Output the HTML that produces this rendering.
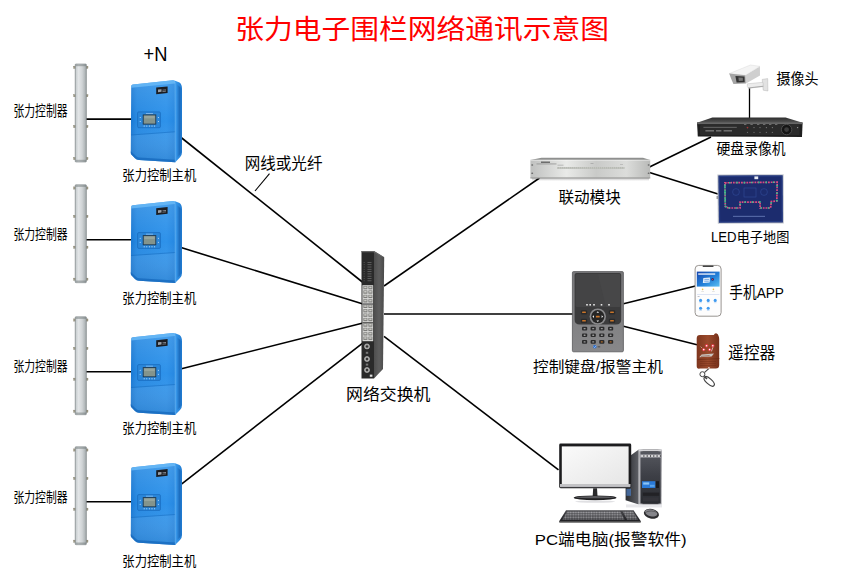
<!DOCTYPE html>
<html lang="zh-CN"><head><meta charset="utf-8"><title>张力电子围栏网络通讯示意图</title>
<style>
html,body{margin:0;padding:0;background:#fff;}
body{width:850px;height:573px;position:relative;overflow:hidden;font-family:"Liberation Sans",sans-serif;}
.t{position:absolute;white-space:nowrap;overflow:hidden;line-height:1;color:transparent;font-family:"Liberation Sans",sans-serif;}
svg text{font-family:"Liberation Sans","Noto Sans CJK SC",sans-serif;}
</style></head><body>
<svg width="850" height="573" viewBox="0 0 850 573" style="position:absolute;left:0;top:0"><defs>
<linearGradient id="poleG" x1="0" x2="1" y1="0" y2="0">
 <stop offset="0" stop-color="#a3abad"/><stop offset=".1" stop-color="#cdd2d4"/><stop offset=".3" stop-color="#e2e5e7"/><stop offset=".62" stop-color="#d0d4d6"/><stop offset=".9" stop-color="#aeb4b6"/><stop offset="1" stop-color="#8c9496"/>
</linearGradient>
<linearGradient id="boxF" x1="0" x2="1" y1="0" y2="0">
 <stop offset="0" stop-color="#1a78d2"/><stop offset=".14" stop-color="#2689e2"/><stop offset=".8" stop-color="#2e92ea"/><stop offset="1" stop-color="#2687e0"/>
</linearGradient>
<linearGradient id="boxS" x1="0" x2="1" y1="0" y2="0">
 <stop offset="0" stop-color="#3f9ff0"/><stop offset="1" stop-color="#1f7bd2"/>
</linearGradient>
<linearGradient id="boxShade" x1="0" x2="0" y1="0" y2="1">
 <stop offset="0" stop-color="#fff" stop-opacity=".12"/><stop offset=".5" stop-color="#fff" stop-opacity="0"/><stop offset="1" stop-color="#003a80" stop-opacity=".18"/>
</linearGradient>
<linearGradient id="modG" x1="0" x2="1" y1="0" y2="0">
 <stop offset="0" stop-color="#bfc0bf"/><stop offset=".3" stop-color="#e9eae8"/><stop offset=".55" stop-color="#c9cac8"/><stop offset=".8" stop-color="#dcdddb"/><stop offset="1" stop-color="#b9bab8"/>
</linearGradient>
<linearGradient id="swS" x1="0" x2="1" y1="0" y2="0">
 <stop offset="0" stop-color="#4e4e4e"/><stop offset=".5" stop-color="#5e5e5e"/><stop offset="1" stop-color="#4a4a4a"/>
</linearGradient>
<linearGradient id="phoneB" x1="0" x2="1" y1="0" y2="1">
 <stop offset="0" stop-color="#1646ae"/><stop offset=".55" stop-color="#2380d8"/><stop offset="1" stop-color="#5cc0f2"/>
</linearGradient>
<linearGradient id="remG" x1="0" x2="1" y1="0" y2="0">
 <stop offset="0" stop-color="#7e361e"/><stop offset=".5" stop-color="#9a4a2c"/><stop offset="1" stop-color="#76301a"/>
</linearGradient>
<linearGradient id="scrG" x1="0" x2="1" y1="0" y2="1">
 <stop offset="0" stop-color="#fafafa"/><stop offset="1" stop-color="#e6e6e6"/>
</linearGradient>
<linearGradient id="twG" x1="0" x2="1" y1="0" y2="0">
 <stop offset="0" stop-color="#c8c8cc"/><stop offset=".1" stop-color="#8a8a90"/><stop offset=".2" stop-color="#44444a"/><stop offset=".8" stop-color="#3a3a40"/><stop offset=".92" stop-color="#8a8a90"/><stop offset="1" stop-color="#b0b0b4"/>
</linearGradient>
<linearGradient id="twPanel" x1="0" x2="0" y1="0" y2="1"><stop offset="0" stop-color="#56585f"/><stop offset=".45" stop-color="#3e4047"/><stop offset="1" stop-color="#2a2c31"/></linearGradient>
<linearGradient id="twSide" x1="0" x2="1" y1="0" y2="0">
 <stop offset="0" stop-color="#2a2c30"/><stop offset="1" stop-color="#5e6066"/>
</linearGradient>
<linearGradient id="kbG" x1="0" x2="0" y1="0" y2="1">
 <stop offset="0" stop-color="#4a4a4e"/><stop offset="1" stop-color="#1e1e22"/>
</linearGradient>
<linearGradient id="dvrTop" x1="0" x2="0" y1="0" y2="1">
 <stop offset="0" stop-color="#2e2e2e"/><stop offset="1" stop-color="#565656"/>
</linearGradient>
<linearGradient id="keyG" x1="0" x2="0" y1="0" y2="1">
 <stop offset="0" stop-color="#777779"/><stop offset="1" stop-color="#88888a"/>
</linearGradient>
<linearGradient id="shad" x1="0" x2="0" y1="0" y2="1"><stop offset="0" stop-color="#000" stop-opacity=".22"/><stop offset="1" stop-color="#000" stop-opacity="0"/></linearGradient>
<pattern id="ridge" width="1.2" height="4" patternUnits="userSpaceOnUse"><rect width=".55" height="4" fill="#0b4f9e" opacity=".5"/></pattern>
<pattern id="kbKeys" width="2.6" height="2.4" patternUnits="userSpaceOnUse"><rect x=".3" y=".3" width="2" height="1.7" rx=".3" fill="#a2a2a6"/></pattern>
<g id="pole">
<g fill="#a39d86" stroke="#6f6a58" stroke-width=".3">
<rect x="-1.6" y="2.2" width="2.4" height="2.2"/><rect x="10.4" y="2.2" width="2.4" height="2.2"/>
<rect x="-1.6" y="30.6" width="2.4" height="2.2"/><rect x="10.4" y="30.6" width="2.4" height="2.2"/>
<rect x="-1.6" y="61.4" width="2.4" height="2.2"/><rect x="10.4" y="61.4" width="2.4" height="2.2"/>
<rect x="-1.6" y="93.4" width="2.4" height="2.2"/><rect x="10.4" y="93.4" width="2.4" height="2.2"/>
</g>
<rect x="0" y="0" width="11.2" height="98" rx=".8" fill="url(#poleG)" stroke="#7d8586" stroke-width=".6"/>
<rect x="0.4" y="0.4" width="10.4" height="1.8" fill="#6f7778" opacity=".5"/>
<rect x="0.4" y="95.8" width="10.4" height="1.8" fill="#6f7778" opacity=".5"/>
</g><g id="bbox">
<path d="M44.5 1.2 L49.5 3.2 Q52 5 52 9.5 L52 73 Q52 76 50 78 L45 83.2 Z" fill="url(#boxS)"/>
<path d="M45.6 4 L51.6 9 L51.6 73.5 L45.6 80 Z" fill="url(#ridge)"/>
<path d="M1.2 7.2 Q1.2 5.6 3 5.4 L43 1.1 Q45 1 45 3 L45.2 83 L9 80.8 Q6.5 80.6 5 79 L1.6 75.6 Q0.8 74.8 0.8 73.5 Z" fill="url(#boxF)"/>
<path d="M1.2 7.2 Q1.2 5.6 3 5.4 L43 1.1 Q45 1 45 3 L45.2 83 L9 80.8 Q6.5 80.6 5 79 L1.6 75.6 Q0.8 74.8 0.8 73.5 Z" fill="url(#boxShade)"/>
<path d="M3 5.4 L43 1.1 Q45 1 45 3 L45 4.2 L1.2 8.6 L1.2 7.2 Q1.2 5.6 3 5.4Z" fill="#6cbcf8" opacity=".8"/>
<path d="M1 55.2 L45.1 52 L45.1 53 L1 56.2 Z" fill="#1566b8" opacity=".45"/>
<path d="M1 56.2 L45.1 53 L45.2 83 L9 80.8 Q6.5 80.6 5 79 L1.6 75.6 Q0.8 74.8 0.8 73.5 Z" fill="#fff" opacity=".06"/>
<path d="M1.6 75.6 L5 79 Q6.5 80.6 9 80.8 L45.2 83 L45.2 80.6 L9.6 78.4 Q7.5 78.2 6.2 77 L0.8 72 L0.8 73.5 Q0.8 74.8 1.6 75.6Z" fill="#1668bc" opacity=".75"/>
<rect x="7.6" y="32.7" width="22.8" height="15.8" rx="1.2" fill="#2a86da" stroke="#1768bb" stroke-width=".7"/>
<rect x="13.2" y="35.7" width="12.6" height="9.2" fill="#84948c" stroke="#1d3850" stroke-width=".9"/>
<rect x="14.2" y="36.7" width="10.6" height="2.5" fill="#a3b1a8" opacity=".6"/>
<g fill="#d8ecff"><circle cx="14.2" cy="46.8" r=".55"/><circle cx="16.8" cy="46.8" r=".55"/><circle cx="19.4" cy="46.8" r=".55"/><circle cx="22" cy="46.8" r=".55"/><circle cx="24.6" cy="46.8" r=".55"/>
<circle cx="10.2" cy="38.3" r=".5"/><circle cx="10.2" cy="42.3" r=".5"/><circle cx="28.4" cy="38.3" r=".5"/><circle cx="28.4" cy="42.3" r=".5"/></g>
<rect x="16" y="33.9" width="7" height=".6" fill="#cfe6ff" opacity=".8"/>
<path d="M45.1 2.6 L45.3 82.6" stroke="#7cc4fa" stroke-width=".7" opacity=".7"/>
<path d="M26.2 8.4 L37.6 7.2 L37.6 13.8 L26.2 15 Z" fill="#1b1d22"/>
<path d="M28 10.4 L31.5 10 L31.5 12.6 L28 13 Z" fill="#9aa0a8"/><path d="M32.4 10.6 L36 10.2 L36 11 L32.4 11.4Z M32.4 12 L36 11.6 L36 12.3 L32.4 12.7Z" fill="#8a9098"/>
</g></defs>
<rect width="850" height="573" fill="#fff"/>
<g stroke="#000" stroke-linecap="butt"><line x1="86" y1="119.1" x2="131" y2="119.1" stroke-width="1.6"/><line x1="86" y1="239.79999999999998" x2="131" y2="239.79999999999998" stroke-width="1.6"/><line x1="86" y1="371.8" x2="131" y2="371.8" stroke-width="1.6"/><line x1="86" y1="501.8" x2="131" y2="501.8" stroke-width="1.6"/><line x1="180.5" y1="137" x2="363" y2="282.5" stroke-width="1.6"/><line x1="181" y1="247.5" x2="363" y2="304" stroke-width="1.6"/><line x1="180.5" y1="369" x2="363" y2="323" stroke-width="1.6"/><line x1="180.5" y1="484.8" x2="363" y2="342.8" stroke-width="1.6"/><line x1="384" y1="286" x2="539.5" y2="178" stroke-width="1.6"/><line x1="384" y1="314" x2="573" y2="314" stroke-width="1.6"/><line x1="384" y1="336.4" x2="558.5" y2="469.8" stroke-width="1.6"/><line x1="649.5" y1="167" x2="711" y2="137" stroke-width="1.6"/><line x1="649.5" y1="172.5" x2="718" y2="194" stroke-width="1.6"/><line x1="623.5" y1="303.75" x2="695.5" y2="286" stroke-width="1.6"/><line x1="623.5" y1="326.25" x2="697" y2="344.7" stroke-width="1.6"/><line x1="749.5" y1="87" x2="749.5" y2="118.5" stroke-width="1.3"/><line x1="269.5" y1="173.7" x2="255" y2="191" stroke-width="1.1"/></g>
<use href="#pole" x="75.2" y="64.0"/>
<use href="#bbox" x="130" y="79.2"/>
<use href="#pole" x="75.2" y="184.7"/>
<use href="#bbox" x="130" y="199.9"/>
<use href="#pole" x="75.2" y="316.7"/>
<use href="#bbox" x="130" y="331.9"/>
<use href="#pole" x="75.2" y="446.7"/>
<use href="#bbox" x="130" y="461.9"/>
<g id="switch"><path d="M374 251 L384.2 257.2 L383 369 L374 378.4 Z" fill="url(#swS)"/><path d="M361.5 251 L374 251 L374 378.4 L361.5 378.4 Z" fill="#2a2a2a"/><path d="M361.5 251 L374 251 L384.2 257.2 L382.6 257 L373.6 252.2 L361.5 252.2Z" fill="#666"/><rect x="367.5" y="262.0" width="4" height=".8" fill="#6a6a6a"/><rect x="363.6" y="262.0" width="1.2" height=".8" fill="#555"/><rect x="367.5" y="264.3" width="4" height=".8" fill="#6a6a6a"/><rect x="363.6" y="264.3" width="1.2" height=".8" fill="#555"/><rect x="367.5" y="266.6" width="4" height=".8" fill="#6a6a6a"/><rect x="363.6" y="266.6" width="1.2" height=".8" fill="#555"/><rect x="367.5" y="268.9" width="4" height=".8" fill="#6a6a6a"/><rect x="363.6" y="268.9" width="1.2" height=".8" fill="#555"/><rect x="367.5" y="271.2" width="4" height=".8" fill="#6a6a6a"/><rect x="363.6" y="271.2" width="1.2" height=".8" fill="#555"/><rect x="367.5" y="273.5" width="4" height=".8" fill="#6a6a6a"/><rect x="363.6" y="273.5" width="1.2" height=".8" fill="#555"/><rect x="367.5" y="275.8" width="4" height=".8" fill="#6a6a6a"/><rect x="363.6" y="275.8" width="1.2" height=".8" fill="#555"/><rect x="367.5" y="278.1" width="4" height=".8" fill="#6a6a6a"/><rect x="363.6" y="278.1" width="1.2" height=".8" fill="#555"/><rect x="367.5" y="280.4" width="4" height=".8" fill="#6a6a6a"/><rect x="363.6" y="280.4" width="1.2" height=".8" fill="#555"/><rect x="362.4" y="285.2" width="10.8" height="56" fill="#dadad8"/><rect x="363.4" y="286.00" width="4" height="3.3" fill="#7c7c7a"/><rect x="368.4" y="286.00" width="4" height="3.3" fill="#7c7c7a"/><rect x="364.2" y="286.60" width="2.4" height="1.6" fill="#c9c9c4"/><rect x="369.2" y="286.60" width="2.4" height="1.6" fill="#c9c9c4"/><rect x="363.4" y="290.40" width="4" height="3.3" fill="#7c7c7a"/><rect x="368.4" y="290.40" width="4" height="3.3" fill="#7c7c7a"/><rect x="364.2" y="291.00" width="2.4" height="1.6" fill="#c9c9c4"/><rect x="369.2" y="291.00" width="2.4" height="1.6" fill="#c9c9c4"/><rect x="363.4" y="294.80" width="4" height="3.3" fill="#7c7c7a"/><rect x="368.4" y="294.80" width="4" height="3.3" fill="#7c7c7a"/><rect x="364.2" y="295.40" width="2.4" height="1.6" fill="#c9c9c4"/><rect x="369.2" y="295.40" width="2.4" height="1.6" fill="#c9c9c4"/><rect x="363.4" y="299.20" width="4" height="3.3" fill="#7c7c7a"/><rect x="368.4" y="299.20" width="4" height="3.3" fill="#7c7c7a"/><rect x="364.2" y="299.80" width="2.4" height="1.6" fill="#c9c9c4"/><rect x="369.2" y="299.80" width="2.4" height="1.6" fill="#c9c9c4"/><rect x="362.4" y="303.40" width="10.8" height="1.3" fill="#555"/><rect x="363.4" y="304.70" width="4" height="3.3" fill="#7c7c7a"/><rect x="368.4" y="304.70" width="4" height="3.3" fill="#7c7c7a"/><rect x="364.2" y="305.30" width="2.4" height="1.6" fill="#c9c9c4"/><rect x="369.2" y="305.30" width="2.4" height="1.6" fill="#c9c9c4"/><rect x="363.4" y="309.10" width="4" height="3.3" fill="#7c7c7a"/><rect x="368.4" y="309.10" width="4" height="3.3" fill="#7c7c7a"/><rect x="364.2" y="309.70" width="2.4" height="1.6" fill="#c9c9c4"/><rect x="369.2" y="309.70" width="2.4" height="1.6" fill="#c9c9c4"/><rect x="363.4" y="313.50" width="4" height="3.3" fill="#7c7c7a"/><rect x="368.4" y="313.50" width="4" height="3.3" fill="#7c7c7a"/><rect x="364.2" y="314.10" width="2.4" height="1.6" fill="#c9c9c4"/><rect x="369.2" y="314.10" width="2.4" height="1.6" fill="#c9c9c4"/><rect x="363.4" y="317.90" width="4" height="3.3" fill="#7c7c7a"/><rect x="368.4" y="317.90" width="4" height="3.3" fill="#7c7c7a"/><rect x="364.2" y="318.50" width="2.4" height="1.6" fill="#c9c9c4"/><rect x="369.2" y="318.50" width="2.4" height="1.6" fill="#c9c9c4"/><rect x="362.4" y="322.10" width="10.8" height="1.3" fill="#555"/><rect x="363.4" y="323.40" width="4" height="3.3" fill="#7c7c7a"/><rect x="368.4" y="323.40" width="4" height="3.3" fill="#7c7c7a"/><rect x="364.2" y="324.00" width="2.4" height="1.6" fill="#c9c9c4"/><rect x="369.2" y="324.00" width="2.4" height="1.6" fill="#c9c9c4"/><rect x="363.4" y="327.80" width="4" height="3.3" fill="#7c7c7a"/><rect x="368.4" y="327.80" width="4" height="3.3" fill="#7c7c7a"/><rect x="364.2" y="328.40" width="2.4" height="1.6" fill="#c9c9c4"/><rect x="369.2" y="328.40" width="2.4" height="1.6" fill="#c9c9c4"/><rect x="363.4" y="332.20" width="4" height="3.3" fill="#7c7c7a"/><rect x="368.4" y="332.20" width="4" height="3.3" fill="#7c7c7a"/><rect x="364.2" y="332.80" width="2.4" height="1.6" fill="#c9c9c4"/><rect x="369.2" y="332.80" width="2.4" height="1.6" fill="#c9c9c4"/><rect x="363.4" y="336.60" width="4" height="3.3" fill="#7c7c7a"/><rect x="368.4" y="336.60" width="4" height="3.3" fill="#7c7c7a"/><rect x="364.2" y="337.20" width="2.4" height="1.6" fill="#c9c9c4"/><rect x="369.2" y="337.20" width="2.4" height="1.6" fill="#c9c9c4"/><circle cx="367" cy="346.4" r="2.5" fill="#9a9a98" stroke="#cfcfcf" stroke-width=".6"/><circle cx="367" cy="346.4" r="1.2" fill="#333"/><circle cx="367" cy="359" r="2.5" fill="#9a9a98" stroke="#cfcfcf" stroke-width=".6"/><circle cx="367" cy="359" r="1.2" fill="#333"/><circle cx="367" cy="370" r="2.5" fill="#9a9a98" stroke="#cfcfcf" stroke-width=".6"/><circle cx="367" cy="370" r="1.2" fill="#333"/><rect x="365.8" y="351.8" width="2.4" height="2" fill="#777"/><rect x="365.8" y="363.6" width="2.4" height="2" fill="#777"/><rect x="369.8" y="374.6" width="2.6" height="2.2" fill="#ddd"/></g>
<g id="module"><path d="M530.4 160 L541.5 157.8 L643 157.8 L650.2 160 Z" fill="#8f908f"/><rect x="530.4" y="159.8" width="119.8" height="18.6" fill="url(#modG)"/><rect x="530.4" y="159.8" width="119.8" height=".8" fill="#fff" opacity=".6"/><rect x="530.4" y="177.4" width="119.8" height="1" fill="#9a9a98"/><rect x="557" y="167" width="67.5" height="1.8" fill="#a9aba6"/><rect x="557.3" y="167.2" width="1.1" height="1.4" fill="#d9dbd4"/><rect x="559.3" y="167.2" width="1.1" height="1.4" fill="#d9dbd4"/><rect x="561.3" y="167.2" width="1.1" height="1.4" fill="#d9dbd4"/><rect x="563.3" y="167.2" width="1.1" height="1.4" fill="#d9dbd4"/><rect x="565.3" y="167.2" width="1.1" height="1.4" fill="#d9dbd4"/><rect x="567.3" y="167.2" width="1.1" height="1.4" fill="#d9dbd4"/><rect x="569.3" y="167.2" width="1.1" height="1.4" fill="#d9dbd4"/><rect x="571.3" y="167.2" width="1.1" height="1.4" fill="#d9dbd4"/><rect x="573.3" y="167.2" width="1.1" height="1.4" fill="#d9dbd4"/><rect x="575.3" y="167.2" width="1.1" height="1.4" fill="#d9dbd4"/><rect x="577.3" y="167.2" width="1.1" height="1.4" fill="#d9dbd4"/><rect x="579.3" y="167.2" width="1.1" height="1.4" fill="#d9dbd4"/><rect x="581.3" y="167.2" width="1.1" height="1.4" fill="#d9dbd4"/><rect x="583.3" y="167.2" width="1.1" height="1.4" fill="#d9dbd4"/><rect x="585.3" y="167.2" width="1.1" height="1.4" fill="#d9dbd4"/><rect x="587.3" y="167.2" width="1.1" height="1.4" fill="#d9dbd4"/><rect x="589.3" y="167.2" width="1.1" height="1.4" fill="#d9dbd4"/><rect x="591.3" y="167.2" width="1.1" height="1.4" fill="#d9dbd4"/><rect x="593.3" y="167.2" width="1.1" height="1.4" fill="#d9dbd4"/><rect x="595.3" y="167.2" width="1.1" height="1.4" fill="#d9dbd4"/><rect x="597.3" y="167.2" width="1.1" height="1.4" fill="#d9dbd4"/><rect x="599.3" y="167.2" width="1.1" height="1.4" fill="#d9dbd4"/><rect x="601.3" y="167.2" width="1.1" height="1.4" fill="#d9dbd4"/><rect x="603.3" y="167.2" width="1.1" height="1.4" fill="#d9dbd4"/><rect x="605.3" y="167.2" width="1.1" height="1.4" fill="#d9dbd4"/><rect x="607.3" y="167.2" width="1.1" height="1.4" fill="#d9dbd4"/><rect x="609.3" y="167.2" width="1.1" height="1.4" fill="#d9dbd4"/><rect x="611.3" y="167.2" width="1.1" height="1.4" fill="#d9dbd4"/><rect x="613.3" y="167.2" width="1.1" height="1.4" fill="#d9dbd4"/><rect x="615.3" y="167.2" width="1.1" height="1.4" fill="#d9dbd4"/><rect x="617.3" y="167.2" width="1.1" height="1.4" fill="#d9dbd4"/><rect x="619.3" y="167.2" width="1.1" height="1.4" fill="#d9dbd4"/><rect x="621.3" y="167.2" width="1.1" height="1.4" fill="#d9dbd4"/><rect x="623.3" y="167.2" width="1.1" height="1.4" fill="#d9dbd4"/><rect x="541" y="161.6" width="9" height="1.2" fill="#555"/><rect x="536.5" y="163.6" width="20" height=".7" fill="#888"/><rect x="557.5" y="164.8" width="6" height=".6" fill="#999"/><rect x="590.5" y="163.2" width="3" height=".6" fill="#999"/><rect x="620" y="164" width="3" height=".6" fill="#aaa"/><ellipse cx="532.2" cy="165" rx="1" ry=".7" fill="#666"/><ellipse cx="532.2" cy="173.2" rx="1" ry=".7" fill="#666"/><ellipse cx="648.6" cy="165" rx="1" ry=".7" fill="#666"/><ellipse cx="648.6" cy="173.2" rx="1" ry=".7" fill="#666"/><rect x="532" y="178.4" width="117" height="2.6" fill="url(#shad)"/></g>
<g id="camera"><path d="M762.2 79.4 L767.7 78.6 L767.9 91 L763.2 90.2 Z" fill="#e2e2e2" stroke="#aaa" stroke-width=".4"/><path d="M747.4 83.8 L763 82.3 L763.2 86.6 L748.6 88.2 Q746.6 87 747.4 83.8Z" fill="#ececec" stroke="#b5b5b5" stroke-width=".4"/><path d="M748 87.4 L763.2 85.8 L763.2 86.8 L748.6 88.4Z" fill="#aaa"/><path d="M745.3 75.2 L759.9 66.4 L760 75.6 L746 83.6 Z" fill="#cfcfcf"/><path d="M729.2 73.6 L750.4 65 L760 66.3 L745.4 75.3 Z" fill="#f4f4f4" stroke="#c8c8c8" stroke-width=".3"/><path d="M729.2 73.6 L745.4 75.3 L746 83.6 L733.4 84 Q731.5 80 729.2 73.6Z" fill="#a4a4a4"/><path d="M735.4 75.9 L744.5 76.6 L744.7 82.3 L736.6 82.6 Z" fill="#333"/><path d="M738.4 77.4 L742.8 77.7 L742.9 80.8 L738.8 80.9Z" fill="#777"/></g>
<g id="dvr"><path d="M697 122.8 L712.4 117.6 L785.6 117.6 L802.6 122.8 Z" fill="url(#dvrTop)"/><path d="M697 122.6 L802.6 122.6 L802 137 L697.8 136.6 Z" fill="#1f1f1f"/><rect x="697.2" y="122.4" width="105.2" height="1.8" fill="#666"/><rect x="700" y="125" width="99.6" height="10" rx="1" fill="#2b2b2b"/><rect x="703.4" y="126.9" width="33.4" height=".6" fill="#8c8c8c"/><rect x="705.4" y="130.3" width="8.6" height="1.1" fill="#8a8a8a"/><rect x="716" y="130.3" width="5.4" height="1.1" fill="#8a8a8a"/><rect x="723.6" y="130.3" width="8.4" height="1.1" fill="#8a8a8a"/><circle cx="747.5" cy="127.6" r=".7" fill="#777"/><circle cx="747.5" cy="132.4" r=".7" fill="#666"/><circle cx="754" cy="127.6" r=".7" fill="#777"/><circle cx="754" cy="132.4" r=".7" fill="#666"/><circle cx="760" cy="127.6" r=".7" fill="#777"/><circle cx="760" cy="132.4" r=".7" fill="#666"/><circle cx="766.4" cy="127.6" r=".7" fill="#777"/><circle cx="766.4" cy="132.4" r=".7" fill="#666"/><circle cx="772.4" cy="127.6" r=".7" fill="#777"/><circle cx="772.4" cy="132.4" r=".7" fill="#666"/><circle cx="747.5" cy="127.6" r=".8" fill="#a33"/><rect x="744" y="124.3" width="2.4" height=".7" fill="#888"/><rect x="750.4" y="124.3" width="2.4" height=".7" fill="#888"/><rect x="757" y="124.3" width="2.4" height=".7" fill="#888"/><rect x="763" y="124.3" width="2.4" height=".7" fill="#888"/><rect x="769" y="124.3" width="2.4" height=".7" fill="#888"/><rect x="775" y="124.3" width="2.4" height=".7" fill="#888"/><circle cx="786.6" cy="129.6" r="5.2" fill="#151515" stroke="#505050" stroke-width=".9"/><circle cx="786.6" cy="129.6" r="2.4" fill="#3c3c3c"/><circle cx="797.6" cy="127.6" r=".7" fill="#999"/></g>
<g id="ledmap"><path d="M717.3 174.6 L783.7 174.2 L783.9 223.4 L717.8 223.8 Z" fill="#c4c8d0"/><path d="M718.4 175.6 L782.7 175.2 L782.9 222.4 L718.9 222.8 Z" fill="#1c2c6e"/><path d="M719.2 176.4 L782 176 L782.2 221.6 L719.7 222 Z" fill="none" stroke="#34509e" stroke-width=".5"/><path d="M728.4 208 L725.3 206.4 L724.9 182.8 L777.2 182.2 L776.8 200.9 L771.3 201.6 L770.6 208 L760.1 208 L760.1 202.1 L740.1 202.1 L740.1 208 Z" fill="none" stroke="#dd4a80" stroke-width="1.7" stroke-dasharray="1.8 .9"/><path d="M728.4 208 L725.3 206.4 L724.9 182.8 L777.2 182.2 L776.8 200.9 L771.3 201.6 L770.6 208 L760.1 208 L760.1 202.1 L740.1 202.1 L740.1 208 Z" fill="none" stroke="#38c48c" stroke-width="1.7" stroke-dasharray="1.5 5.8" stroke-dashoffset="-2"/><path d="M724.9 186 L725.2 205" fill="none" stroke="#2fb888" stroke-width="1.5" stroke-dasharray="2.4 1.2"/><rect x="754.4" y="176.4" width="3.8" height="2.8" fill="#e8ecf4"/><rect x="733" y="215.8" width="32" height="1.2" fill="#7f95d0" opacity=".55"/><circle cx="736" cy="192" r="3.4" fill="none" stroke="#3450a0" stroke-width=".5"/><circle cx="764" cy="192" r="3.4" fill="none" stroke="#3450a0" stroke-width=".5"/><rect x="744" y="188" width="12" height="9" fill="none" stroke="#3450a0" stroke-width=".5"/><rect x="716.6" y="196" width="1.2" height="3" fill="#888"/></g>
<g id="keypad"><rect x="572.4" y="271.6" width="51" height="80.2" rx="1.2" fill="url(#keyG)" stroke="#58585a" stroke-width=".8"/><path d="M576.6 273 L619.4 273 Q621.2 273 621.2 275 L621.2 319.5 Q621.2 324.6 616 324.6 L579.8 324.6 Q574.6 324.6 574.6 319.5 L574.6 275 Q574.6 273 576.6 273Z" fill="#3b3b3c"/><rect x="575.6" y="274" width="44.6" height="33" rx="1.5" fill="#444445"/><path d="M598 274 L620.2 274 L620.2 307 L606 307Z" fill="#4a4a4b" opacity=".6"/><rect x="586.2" y="304" width="1.6" height="1.6" fill="#e8e8e8"/><rect x="589.4000000000001" y="304" width="1.6" height="1.6" fill="#e8e8e8"/><rect x="593.2" y="304" width="1.6" height="1.6" fill="#e8e8e8"/><rect x="600.7" y="304" width="1.6" height="1.6" fill="#e8e8e8"/><rect x="608.2" y="304" width="1.6" height="1.6" fill="#e8e8e8"/><rect x="580.8" y="310.2" width="6.4" height="4.2" rx="1.2" fill="#2a2a2a"/><rect x="582.1" y="311.5" width="3.8" height="1.6" rx=".5" fill="#c8742a"/><rect x="580.8" y="318.7" width="6.4" height="4.2" rx="1.2" fill="#2a2a2a"/><rect x="582.1" y="320.0" width="3.8" height="1.6" rx=".5" fill="#c8742a"/><rect x="608.8" y="310.2" width="6.4" height="4.2" rx="1.2" fill="#2a2a2a"/><rect x="610.1" y="311.5" width="3.8" height="1.6" rx=".5" fill="#c8742a"/><rect x="608.8" y="318.7" width="6.4" height="4.2" rx="1.2" fill="#2a2a2a"/><rect x="610.1" y="320.0" width="3.8" height="1.6" rx=".5" fill="#c8742a"/><circle cx="597.8" cy="316.6" r="8.2" fill="#8a8a8c"/><circle cx="597.8" cy="316.6" r="6.6" fill="#262626"/><rect x="595.9" y="315.8" width="3.8" height="1.7" rx=".5" fill="#c8742a"/><path d="M597.8 311.2 l1.3 1.6 h-2.6z M597.8 322 l1.3 -1.6 h-2.6z M592.4 316.6 l1.6 -1.3 v2.6z M603.2 316.6 l-1.6 -1.3 v2.6z" fill="#eee"/><rect x="582.0" y="326.8" width="5.2" height="3.6" rx="1" fill="#2b2b2c"/><rect x="583.6" y="327.90000000000003" width="2" height="1.4" rx=".4" fill="#9a9a9a"/><rect x="590.6" y="326.8" width="5.2" height="3.6" rx="1" fill="#2b2b2c"/><rect x="592.2" y="327.90000000000003" width="2" height="1.4" rx=".4" fill="#9a9a9a"/><rect x="599.1999999999999" y="326.8" width="5.2" height="3.6" rx="1" fill="#2b2b2c"/><rect x="600.8" y="327.90000000000003" width="2" height="1.4" rx=".4" fill="#9a9a9a"/><rect x="608.0" y="326.8" width="5.2" height="3.6" rx="1" fill="#2b2b2c"/><rect x="609.6" y="327.90000000000003" width="2" height="1.4" rx=".4" fill="#9a9a9a"/><rect x="582.0" y="333.4" width="5.2" height="3.6" rx="1" fill="#2b2b2c"/><rect x="583.6" y="334.5" width="2" height="1.4" rx=".4" fill="#9a9a9a"/><rect x="590.6" y="333.4" width="5.2" height="3.6" rx="1" fill="#2b2b2c"/><rect x="592.2" y="334.5" width="2" height="1.4" rx=".4" fill="#9a9a9a"/><rect x="599.1999999999999" y="333.4" width="5.2" height="3.6" rx="1" fill="#2b2b2c"/><rect x="600.8" y="334.5" width="2" height="1.4" rx=".4" fill="#9a9a9a"/><rect x="608.0" y="333.4" width="5.2" height="3.6" rx="1" fill="#2b2b2c"/><rect x="609.6" y="334.5" width="2" height="1.4" rx=".4" fill="#9a9a9a"/><rect x="582.0" y="340.09999999999997" width="5.2" height="3.6" rx="1" fill="#2b2b2c"/><rect x="583.6" y="341.2" width="2" height="1.4" rx=".4" fill="#9a9a9a"/><rect x="590.6" y="340.09999999999997" width="5.2" height="3.6" rx="1" fill="#2b2b2c"/><rect x="592.2" y="341.2" width="2" height="1.4" rx=".4" fill="#9a9a9a"/><rect x="599.1999999999999" y="340.09999999999997" width="5.2" height="3.6" rx="1" fill="#2b2b2c"/><rect x="600.8" y="341.2" width="2" height="1.4" rx=".4" fill="#b06a28"/><rect x="608.0" y="340.09999999999997" width="5.2" height="3.6" rx="1" fill="#2b2b2c"/><rect x="609.6" y="341.2" width="2" height="1.4" rx=".4" fill="#b06a28"/><circle cx="594.8" cy="346.8" r="1.8" fill="#2a6fd0"/><path d="M593.6 346.6 l1 1 l1.6 -1.8" stroke="#fff" stroke-width=".5" fill="none"/><rect x="597.6" y="346.4" width="2.6" height=".9" fill="#444"/></g>
<g id="phone"><rect x="695.1" y="265.4" width="26" height="50.8" rx="3.6" fill="#fdfdfd" stroke="#86827e" stroke-width=".85"/><rect x="702.6" y="265.6" width="11" height="1.3" rx=".6" fill="#444"/><rect x="696.8" y="271.6" width="22.8" height="15" fill="url(#phoneB)"/><rect x="698.2" y="273.4" width="17" height="1.3" fill="#fff" opacity=".95"/><path d="M703.4 278 L710 277.6 L709.6 282.6 L702.8 283Z" fill="#fff" opacity=".9"/><circle cx="712.6" cy="279.4" r="1.3" fill="#2a2a6a"/><circle cx="712.6" cy="279.4" r=".6" fill="#e03a3a"/><path d="M704.4 279.4 h4.6 M704.2 281.2 h4.6" stroke="#2a7ad8" stroke-width=".6"/><circle cx="702.6" cy="289.4" r=".8" fill="#f0c040"/><circle cx="713.4" cy="289.4" r=".8" fill="#f0c040"/><rect x="701.2" y="291" width="2.8" height=".5" fill="#ccc"/><rect x="712" y="291" width="2.8" height=".5" fill="#ccc"/><rect x="697" y="294.2" width="22.4" height=".6" fill="#c9d4ee"/><rect x="697.6" y="296" width="2" height=".6" fill="#99a"/><circle cx="700.6" cy="300.4" r="1.55" fill="#3f9af0"/><rect x="699.3000000000001" y="302.59999999999997" width="2.6" height=".5" fill="#9cc4ee"/><circle cx="708.2" cy="300.4" r="1.55" fill="#3f9af0"/><rect x="706.9000000000001" y="302.59999999999997" width="2.6" height=".5" fill="#9cc4ee"/><circle cx="715.2" cy="300.4" r="1.55" fill="#3f9af0"/><rect x="713.9000000000001" y="302.59999999999997" width="2.6" height=".5" fill="#9cc4ee"/><circle cx="700.6" cy="308.2" r="1.55" fill="#3f9af0"/><rect x="699.3000000000001" y="310.4" width="2.6" height=".5" fill="#9cc4ee"/><circle cx="708.2" cy="308.2" r="1.55" fill="#3f9af0"/><rect x="706.9000000000001" y="310.4" width="2.6" height=".5" fill="#9cc4ee"/></g>
<g id="remote"><g fill="none" stroke="#444" stroke-width="1"><path d="M708.8 368.6 L704.6 372.4" stroke-width="1.2"/><circle cx="702.4" cy="374.2" r="2.5"/><ellipse cx="709.2" cy="381.4" rx="6.4" ry="2.7" transform="rotate(42 709.2 381.4)" stroke-width="1.2"/><path d="M704.6 376.6 L707 379" stroke-width="1.6"/></g><path d="M700 335 L713.8 335 Q714.6 333 716.2 333.2 Q718.2 333.6 718.6 336 Q719.2 337.4 719.2 339 L719.2 365 Q719.2 368.6 715.8 368.6 L700 368.6 Q696.7 369.4 696.7 366 L696.7 338.4 Q696.7 335 700 335Z" fill="url(#remG)"/><path d="M697.2 359.6 L719.6 358.6" stroke="#5e2410" stroke-width=".5"/><path d="M699.2 357.2 L701.6 354.6 L714 353.6 L711.6 356.4Z" fill="#c9c4c0"/><path d="M701 356.4 L709.6 355.6" stroke="#7a3018" stroke-width=".5"/><path d="M713.2 346.4 L711.4 351.4" stroke="#f2dede" stroke-width=".7"/><path d="M700.6 346.6 L702.2 348.2" stroke="#e8c8c0" stroke-width=".6"/><circle cx="703.7" cy="349.6" r="1.7" fill="#e23a44"/><circle cx="703.7" cy="349.6" r=".8" fill="#fff"/><circle cx="706.6" cy="345.8" r="1.7" fill="#e23a44"/><circle cx="706.6" cy="345.8" r=".8" fill="#fff"/><circle cx="709.6" cy="349.6" r="1.7" fill="#e23a44"/><circle cx="709.6" cy="349.6" r=".8" fill="#fff"/><circle cx="712.8" cy="345.8" r="1.7" fill="#e23a44"/><circle cx="712.8" cy="345.8" r=".8" fill="#fff"/><circle cx="708.9" cy="367.8" r=".8" fill="#f4f0ee"/><g fill="#6a2814" opacity=".6"><rect x="700" y="361.4" width="16" height=".6"/><rect x="700" y="363.2" width="16" height=".6"/><rect x="700" y="365" width="16" height=".6"/></g></g>
<g id="pc"><path d="M625.6 459 L638.8 449.6 L638.8 504.4 L625.6 500.2 Z" fill="url(#twSide)"/><rect x="626.4" y="488.8" width="4.6" height="7" fill="#4a78b8" opacity=".75"/><path d="M638.7 449.6 L661.2 449.6 Q662 449.6 662 450.6 L661.6 504.4 L638.7 504.4 Z" fill="url(#twG)"/><rect x="638.7" y="449.6" width="23" height="1.6" fill="#d5d5d8"/><rect x="640.6" y="451.6" width="20" height="51.6" fill="url(#twPanel)"/><rect x="639.4" y="454.4" width="22.4" height="3.2" fill="#a6a6ac"/><rect x="641.2" y="455.4" width="2.2" height="1.2" fill="#f4f4f4"/><rect x="643.4" y="455.4" width="1.1" height="1.2" fill="#333"/><rect x="644.5" y="455.4" width="2.2" height="1.2" fill="#f4f4f4"/><rect x="646.7" y="455.4" width="1.1" height="1.2" fill="#333"/><rect x="647.8" y="455.4" width="2.2" height="1.2" fill="#f4f4f4"/><rect x="650.0" y="455.4" width="1.1" height="1.2" fill="#333"/><rect x="651.1" y="455.4" width="2.2" height="1.2" fill="#f4f4f4"/><rect x="653.3" y="455.4" width="1.1" height="1.2" fill="#333"/><rect x="654.4" y="455.4" width="2.2" height="1.2" fill="#f4f4f4"/><rect x="656.6" y="455.4" width="1.1" height="1.2" fill="#333"/><rect x="657.7" y="455.4" width="2.2" height="1.2" fill="#f4f4f4"/><rect x="659.9" y="455.4" width="1.1" height="1.2" fill="#333"/><rect x="642" y="481.2" width="13.4" height="6.8" fill="#2a7ad8"/><rect x="643.2" y="482.4" width="6" height="2.2" fill="#8cc4f4"/><rect x="650" y="484.8" width="4.6" height="2" fill="#5aa4ea"/><rect x="655.8" y="481.2" width="3.2" height="6.8" fill="#1a1a1c"/><rect x="642.8" y="492.6" width="16.4" height="3.2" fill="#222226"/><rect x="643" y="497.4" width="15.6" height="4" fill="#34343a"/><rect x="626" y="504.4" width="36" height="3" fill="#e2e2e6" opacity=".8"/><rect x="559.2" y="443.6" width="72" height="44.6" rx="1.4" fill="#1c1c1e"/><rect x="561.8" y="446.4" width="66.8" height="37.8" fill="url(#scrG)"/><rect x="560" y="484.4" width="70.4" height="2.8" fill="#b9b9bd"/><rect x="560" y="484.4" width="70.4" height=".8" fill="#e8e8ea"/><path d="M593.2 488.2 L597 488.2 L597.6 497 L592.6 497 Z" fill="#2a2a2c"/><ellipse cx="595.1" cy="497.8" rx="21.4" ry="2.4" fill="#202022"/><ellipse cx="595.1" cy="497.2" rx="19" ry="1.1" fill="#5a5a5e"/><ellipse cx="595.1" cy="501.6" rx="20" ry="1.2" fill="#d8d8dc" opacity=".8"/><path d="M566 510.2 L633.6 510.2 L641 521.4 L559 521.4 Z" fill="url(#kbG)"/><path d="M567.4 511.2 L620 511.2 L624.6 519.4 L562.4 519.4 Z" fill="url(#kbKeys)"/><path d="M622.6 511.2 L632.8 511.2 L638 519.4 L627 519.4 Z" fill="url(#kbKeys)"/><path d="M559 521.4 L641 521.4 L640.6 522.6 L559.4 522.6Z" fill="#111"/><ellipse cx="651.4" cy="513.8" rx="7.6" ry="4.8" fill="#2c2c2e" transform="rotate(12 651.4 513.8)"/><ellipse cx="651.2" cy="512.9" rx="6.3" ry="3.4" fill="#85858a" transform="rotate(12 651.2 512.9)"/><path d="M645 512.6 Q651 509.4 657.4 512.6" stroke="#333" stroke-width=".5" fill="none"/></g>
<text x="235.33" y="38.51" font-size="26.72" fill="#ff0000" textLength="373.7" lengthAdjust="spacingAndGlyphs">张力电子围栏网络通讯示意图</text>
<text x="143.47" y="60.65" font-size="20.53" fill="#000" textLength="23.9" lengthAdjust="spacingAndGlyphs">+N</text>
<text x="13.41" y="116.15" font-size="14.42" fill="#000" textLength="54.15" lengthAdjust="spacingAndGlyphs">张力控制器</text>
<text x="13.41" y="239.19" font-size="14" fill="#000" textLength="54.15" lengthAdjust="spacingAndGlyphs">张力控制器</text>
<text x="13.41" y="371.19" font-size="14" fill="#000" textLength="54.15" lengthAdjust="spacingAndGlyphs">张力控制器</text>
<text x="13.41" y="502.08" font-size="14.11" fill="#000" textLength="54.15" lengthAdjust="spacingAndGlyphs">张力控制器</text>
<text x="122.30" y="179.50" font-size="13.9" fill="#000" textLength="73.98" lengthAdjust="spacingAndGlyphs">张力控制主机</text>
<text x="122.30" y="303.10" font-size="13.9" fill="#000" textLength="73.98" lengthAdjust="spacingAndGlyphs">张力控制主机</text>
<text x="122.30" y="433.49" font-size="14" fill="#000" textLength="73.98" lengthAdjust="spacingAndGlyphs">张力控制主机</text>
<text x="122.30" y="565.80" font-size="13.9" fill="#000" textLength="73.98" lengthAdjust="spacingAndGlyphs">张力控制主机</text>
<text x="244.72" y="168.65" font-size="15.51" fill="#000" textLength="77.75" lengthAdjust="spacingAndGlyphs">网线或光纤</text>
<text x="346.03" y="399.98" font-size="15.9" fill="#000" textLength="84.4" lengthAdjust="spacingAndGlyphs">网络交换机</text>
<text x="558.40" y="203.37" font-size="16.27" fill="#000" textLength="62.4" lengthAdjust="spacingAndGlyphs">联动模块</text>
<text x="776.51" y="83.57" font-size="15.33" fill="#000" textLength="42.09" lengthAdjust="spacingAndGlyphs">摄像头</text>
<text x="716.54" y="154.07" font-size="15.16" fill="#000" textLength="69.1" lengthAdjust="spacingAndGlyphs">硬盘录像机</text>
<text x="710.97" y="242.42" font-size="13.73" fill="#000" textLength="78.43" lengthAdjust="spacingAndGlyphs">LED电子地图</text>
<text x="729.31" y="298.16" font-size="15.56" fill="#000" textLength="54.67" lengthAdjust="spacingAndGlyphs">手机APP</text>
<text x="727.98" y="358.57" font-size="16.61" fill="#000" textLength="47.37" lengthAdjust="spacingAndGlyphs">遥控器</text>
<text x="533.02" y="372.32" font-size="14.38" fill="#000" textLength="129.8" lengthAdjust="spacingAndGlyphs">控制键盘/报警主机</text>
<text x="534.8" y="544.52" font-size="15.56" fill="#000" textLength="151.9" lengthAdjust="spacingAndGlyphs">PC端电脑(报警软件)</text>
</svg>
<div class="t" style="left:238px;top:14px;width:370px;height:28px;font-size:26.8px">张力电子围栏网络通讯示意图</div><div class="t" style="left:144px;top:44px;width:22px;height:18px;font-size:16.4px">+N</div><div class="t" style="left:14px;top:103px;width:53px;height:16px;font-size:14.5px">张力控制器</div><div class="t" style="left:14px;top:226px;width:53px;height:15px;font-size:14.1px">张力控制器</div><div class="t" style="left:14px;top:358px;width:53px;height:15px;font-size:14.1px">张力控制器</div><div class="t" style="left:14px;top:489px;width:53px;height:16px;font-size:14.2px">张力控制器</div><div class="t" style="left:123px;top:167px;width:73px;height:15px;font-size:14.0px">张力控制主机</div><div class="t" style="left:123px;top:290px;width:73px;height:15px;font-size:14.0px">张力控制主机</div><div class="t" style="left:123px;top:420px;width:73px;height:15px;font-size:14.1px">张力控制主机</div><div class="t" style="left:123px;top:553px;width:73px;height:15px;font-size:14.0px">张力控制主机</div><div class="t" style="left:246px;top:154px;width:76px;height:16px;font-size:15.2px">网线或光纤</div><div class="t" style="left:348px;top:385px;width:83px;height:17px;font-size:15.6px">网络交换机</div><div class="t" style="left:559px;top:188px;width:62px;height:18px;font-size:16.3px">联动模块</div><div class="t" style="left:777px;top:70px;width:41px;height:16px;font-size:15.2px">摄像头</div><div class="t" style="left:717px;top:140px;width:69px;height:16px;font-size:15.2px">硬盘录像机</div><div class="t" style="left:712px;top:230px;width:76px;height:15px;font-size:13.4px">LED电子地图</div><div class="t" style="left:730px;top:284px;width:54px;height:16px;font-size:15.2px">手机APP</div><div class="t" style="left:728px;top:344px;width:46px;height:18px;font-size:16.3px">遥控器</div><div class="t" style="left:533px;top:359px;width:129px;height:17px;font-size:15.8px">控制键盘/报警主机</div><div class="t" style="left:536px;top:530px;width:148px;height:18px;font-size:17.2px">PC端电脑(报警软件)</div>
</body></html>
